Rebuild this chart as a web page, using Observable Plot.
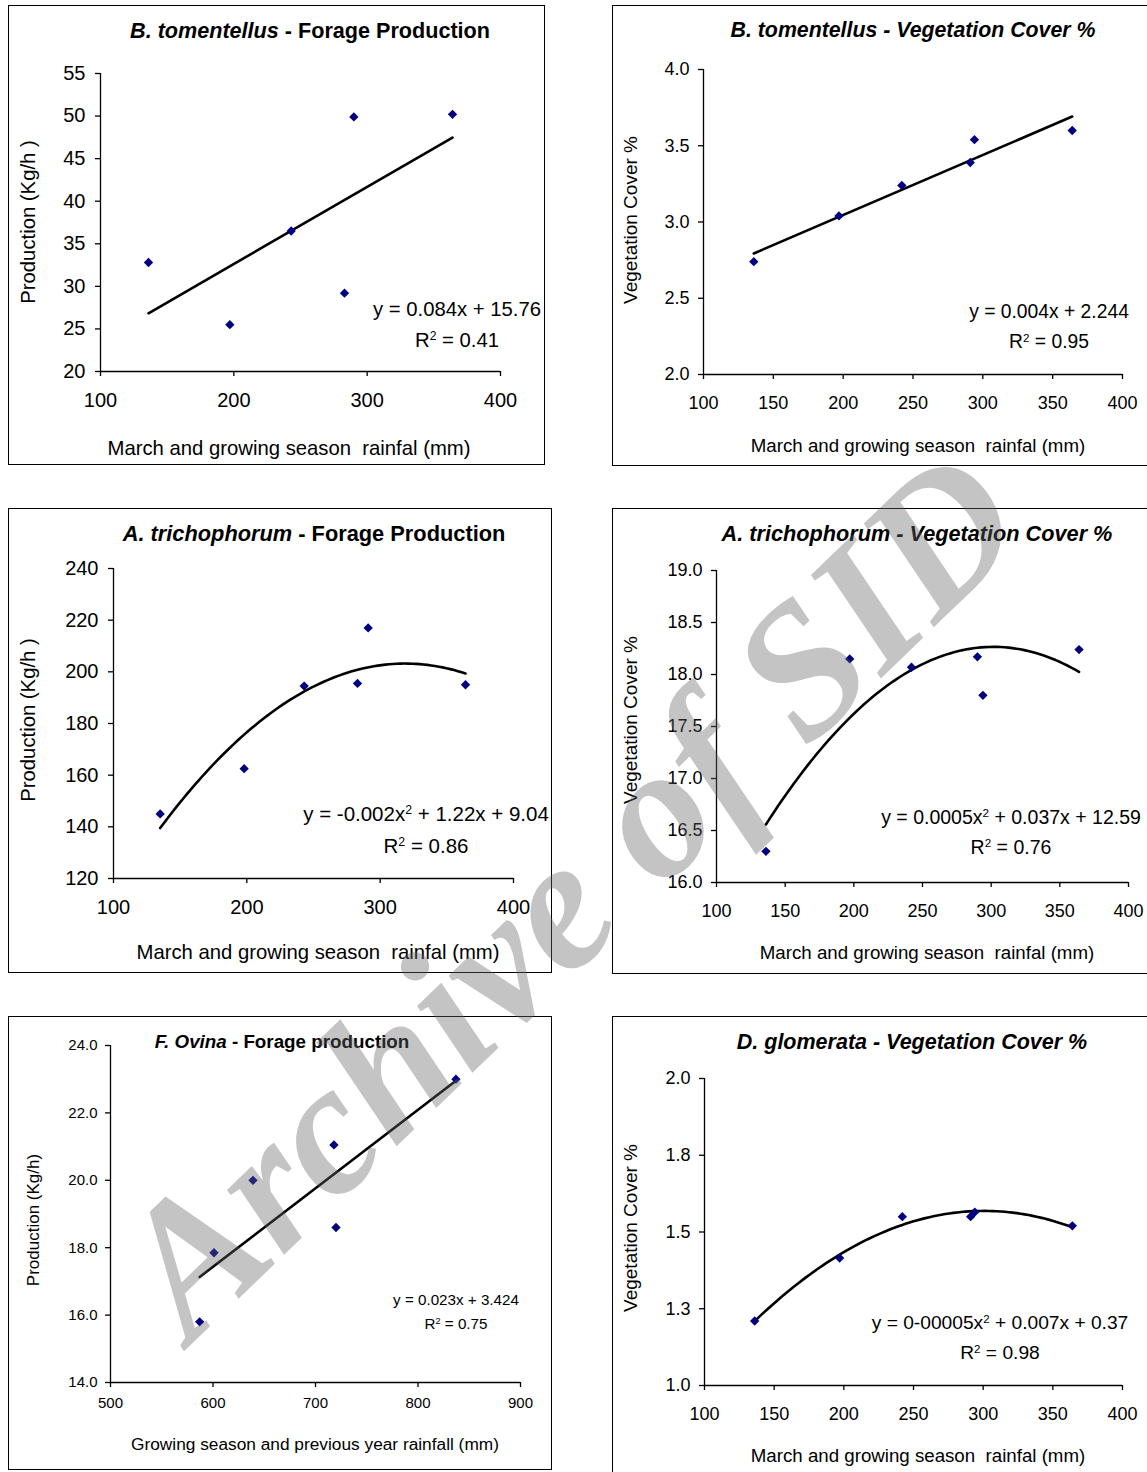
<!DOCTYPE html>
<html><head><meta charset="utf-8">
<script src="https://cdn.jsdelivr.net/npm/d3@7"></script>
<script src="https://cdn.jsdelivr.net/npm/@observablehq/plot@0.6"></script>
<style>
html,body{margin:0;padding:0;background:#fff;overflow:hidden;}
#root{position:relative;width:1147px;height:1472px;overflow:hidden;font-family:"Liberation Sans",Arial,sans-serif;color:#000;background:#fff;}
.frame{position:absolute;border:1.5px solid #000;box-sizing:border-box;}
.t{position:absolute;white-space:pre;transform:translate(-50%,-50%);line-height:1;}
.yl{transform:translate(-50%,-50%) rotate(-90deg);}
.plot{position:absolute;}
.eq{text-align:center;line-height:1.55;}
sup{font-size:0.6em;vertical-align:0.55em;line-height:0;}
.wm{position:absolute;white-space:nowrap;font-family:"Liberation Serif","Times New Roman",serif;font-weight:bold;font-style:italic;color:rgba(100,100,100,0.38);pointer-events:none;line-height:1;}
</style>
</head><body><div id="root"></div>
<script>
// ---------------- data ----------------
const rainProdBT = [136, 197, 243, 283, 290, 364];
const prodBT     = [32.8, 25.5, 36.5, 29.2, 49.9, 50.2];
const rainCoverBT = [136, 197, 242, 291, 294, 364];
const coverBT     = [2.74, 3.04, 3.24, 3.39, 3.54, 3.60];
const rainProdAT = [135, 198, 243, 283, 291, 364];
const prodAT     = [145, 162.5, 194.5, 195.5, 217, 195];
const rainCoverAT = [136, 197, 242, 290, 294, 364];
const coverAT     = [16.30, 18.15, 18.07, 18.17, 17.80, 18.24];
const rainFO = [587, 601, 639, 718, 720, 837];
const prodFO = [15.8, 17.85, 20.0, 21.05, 18.6, 23.0];
const rainCoverDG = [136, 197, 242, 291, 294, 364];
const coverDG     = [1.21, 1.415, 1.55, 1.55, 1.565, 1.52];

// tick values / labels
const rainTicks100 = [100, 200, 300, 400];
const rainTicks50  = [100, 150, 200, 250, 300, 350, 400];
const rainTicksFO  = [500, 600, 700, 800, 900];
const prodTicksBT  = [20, 25, 30, 35, 40, 45, 50, 55];
const coverTicksBT = [2.0, 2.5, 3.0, 3.5, 4.0];
const prodTicksAT  = [120, 140, 160, 180, 200, 220, 240];
const coverTicksAT = [16.0, 16.5, 17.0, 17.5, 18.0, 18.5, 19.0];
const prodTicksFO  = [14, 16, 18, 20, 22, 24];
const coverTicksDG = [1.0, 1.25, 1.5, 1.75, 2.0];
const coverTickLabelsDG = ["1.0", "1.3", "1.5", "1.8", "2.0"];

// texts
const titleSpecies = ["B. tomentellus", "B. tomentellus", "A. trichophorum", "A. trichophorum", "F. Ovina", "D. glomerata"];
const titleRest = [" - Forage Production", " - Vegetation Cover %", " - Forage Production", " - Vegetation Cover %", " - Forage production", " - Vegetation Cover %"];
const xLabels = ["March and growing season  rainfal (mm)", "March and growing season  rainfal (mm)", "March and growing season  rainfal (mm)", "March and growing season  rainfal (mm)", "Growing season and previous year rainfall (mm)", "March and growing season  rainfal (mm)"];
const yLabels = ["Production (Kg/h )", "Vegetation Cover %", "Production (Kg/h )", "Vegetation Cover %", "Production (Kg/h)", "Vegetation Cover %"];
const equations = ["y = 0.084x + 15.76", "y = 0.004x + 2.244", "y = -0.002x<sup>2</sup> + 1.22x + 9.04", "y = 0.0005x<sup>2</sup> + 0.037x + 12.59", "y = 0.023x + 3.424", "y = 0-00005x<sup>2</sup> + 0.007x + 0.37"];
const rSquared = ["0.41", "0.95", "0.86", "0.76", "0.75", "0.98"];

// ---------------- layout ----------------
const panels = [
  {x: rainProdBT, y: prodBT, xd: [100, 400], yd: [20, 55], xt: rainTicks100, yt: prodTicksBT, fit: "linear",
   frame: [8, 5, 545, 465], plot: [100, 73, 500, 371], fs: 20, lfs: 20.3, ylfs: 20.3, tfs: 21.6, efs: 20.3, allItalic: false,
   tpad: 16, ypad: 10, title: [310, 31], xl: [289, 448], yl: [28, 222], eq: [457, 325]},
  {x: rainCoverBT, y: coverBT, xd: [100, 400], yd: [2, 4], xt: rainTicks50, yt: coverTicksBT, fit: "linear", yf: d => d3.format(".1f")(d),
   frame: [612, 5, 1160, 466], plot: [703, 69, 1122, 374], fs: 18, lfs: 18.7, ylfs: 19, tfs: 21.3, efs: 19.3, allItalic: true,
   tpad: 17, ypad: 9, title: [913, 31], xl: [918, 446], yl: [630, 220], eq: [1049, 327]},
  {x: rainProdAT, y: prodAT, xd: [100, 400], yd: [120, 240], xt: rainTicks100, yt: prodTicksAT, fit: "quad",
   frame: [8, 508, 552, 973], plot: [113, 568, 513, 878], fs: 20, lfs: 20.3, ylfs: 20.3, tfs: 21.8, efs: 20.5, allItalic: false,
   tpad: 16, ypad: 10, title: [314, 534], xl: [318, 952], yl: [28, 720], eq: [426, 830]},
  {x: rainCoverAT, y: coverAT, xd: [100, 400], yd: [16, 19], xt: rainTicks50, yt: coverTicksAT, fit: "quad", yf: d => d3.format(".1f")(d),
   frame: [612, 508, 1160, 974], plot: [716, 570, 1128, 882], fs: 18, lfs: 18.7, ylfs: 19, tfs: 21.7, efs: 19.5, allItalic: true,
   tpad: 17, ypad: 9, title: [917, 534], xl: [927, 953], yl: [630, 720], eq: [1011, 832]},
  {x: rainFO, y: prodFO, xd: [500, 900], yd: [14, 24], xt: rainTicksFO, yt: prodTicksFO, fit: "linear", yf: d => d3.format(".1f")(d),
   frame: [8, 1016, 552, 1470], plot: [110, 1045, 520, 1382], fs: 15, lfs: 17.3, ylfs: 17, tfs: 18.8, efs: 15.2, allItalic: false,
   tpad: 10, ypad: 8, title: [282, 1042], xl: [315, 1445], yl: [33, 1220], eq: [456, 1312]},
  {x: rainCoverDG, y: coverDG, xd: [100, 400], yd: [1, 2], xt: rainTicks50, yt: coverTicksDG, fit: "quad", yf: d => coverTickLabelsDG[coverTicksDG.indexOf(d)],
   frame: [612, 1016, 1160, 1480], plot: [704, 1078, 1122, 1385], fs: 18, lfs: 18.7, ylfs: 19, tfs: 21.5, efs: 19.2, allItalic: true,
   tpad: 17, ypad: 9, title: [912, 1043], xl: [918, 1456], yl: [630, 1228], eq: [1000, 1338]}
];

// least-squares quadratic trend computed from the points
function quadFit(xs, ys) {
  const n = xs.length;
  let s = [0,0,0,0,0], t = [0,0,0];
  for (let i = 0; i < n; i++) {
    const x = xs[i], y = ys[i];
    for (let k = 0; k < 5; k++) s[k] += Math.pow(x, k);
    for (let k = 0; k < 3; k++) t[k] += y * Math.pow(x, k);
  }
  const A = [[s[0], s[1], s[2], t[0]], [s[1], s[2], s[3], t[1]], [s[2], s[3], s[4], t[2]]];
  for (let i = 0; i < 3; i++) {
    for (let j = i + 1; j < 3; j++) {
      const f = A[j][i] / A[i][i];
      for (let k = i; k < 4; k++) A[j][k] -= f * A[i][k];
    }
  }
  const c = [0,0,0];
  for (let i = 2; i >= 0; i--) {
    let v = A[i][3];
    for (let k = i + 1; k < 3; k++) v -= A[i][k] * c[k];
    c[i] = v / A[i][i];
  }
  const [x0, x1] = d3.extent(xs);
  return d3.range(0, 81).map(i => {
    const x = x0 + (x1 - x0) * i / 80;
    return {x, y: c[0] + c[1] * x + c[2] * x * x};
  });
}

const root = document.getElementById("root");
function addText(html, cx, cy, style, cls) {
  const d = document.createElement("div");
  d.className = "t" + (cls ? " " + cls : "");
  d.innerHTML = html;
  d.style.left = cx + "px";
  d.style.top = cy + "px";
  Object.assign(d.style, style || {});
  root.appendChild(d);
  return d;
}

panels.forEach((p, i) => {
  const [fl, ft, fr, fb] = p.frame;
  const [pl, pt, pr, pb] = p.plot;
  const fw = fr - fl, fh = fb - ft;
  const frame = document.createElement("div");
  frame.className = "frame";
  Object.assign(frame.style, {left: fl + "px", top: ft + "px", width: fw + "px", height: fh + "px"});
  root.appendChild(frame);

  const data = p.x.map((x, k) => ({x, y: p.y[k]}));
  const trend = p.fit === "linear"
    ? Plot.linearRegressionY(data, {x: "x", y: "y", ci: 0, stroke: "#000", strokeWidth: 2.6})
    : Plot.line(quadFit(p.x, p.y), {x: "x", y: "y", stroke: "#000", strokeWidth: 2.6});

  const chart = Plot.plot({
    width: fw, height: fh,
    marginLeft: pl - fl, marginRight: fr - pr, marginTop: pt - ft, marginBottom: fb - pb,
    style: {fontFamily: '"Liberation Sans", Arial, sans-serif', fontSize: p.fs + "px", color: "#000", background: "transparent", overflow: "visible"},
    x: {domain: p.xd},
    y: {domain: p.yd},
    marks: [
      Plot.axisX({ticks: p.xt, tickSize: 5, tickPadding: p.tpad, tickFormat: d => String(d), label: null, fontSize: p.fs, stroke: "#000", strokeWidth: 1.3}),
      Plot.axisY({ticks: p.yt, tickSize: 5, tickPadding: p.ypad, tickFormat: p.yf || (d => String(d)), label: null, fontSize: p.fs, stroke: "#000", strokeWidth: 1.3}),
      Plot.ruleX([p.xd[0]], {stroke: "#000", strokeWidth: 1.3}),
      Plot.ruleY([p.yd[0]], {stroke: "#000", strokeWidth: 1.3}),
      trend,
      Plot.dot(data, {x: "x", y: "y", symbol: "diamond2", r: 4.2, fill: "#000080", stroke: null})
    ]
  });
  chart.classList.add("plot");
  chart.style.left = fl + "px";
  chart.style.top = ft + "px";
  root.appendChild(chart);

  const sp = `<i>${titleSpecies[i]}</i>`;
  const rest = p.allItalic ? `<i>${titleRest[i]}</i>` : titleRest[i];
  addText(sp + rest, p.title[0], p.title[1], {fontWeight: "bold", fontSize: p.tfs + "px"});
  addText(xLabels[i], p.xl[0], p.xl[1], {fontSize: p.lfs + "px"});
  addText(yLabels[i], p.yl[0], p.yl[1], {fontSize: p.ylfs + "px"}, "yl");
  addText(`${equations[i]}<br>R<sup>2</sup> = ${rSquared[i]}`, p.eq[0], p.eq[1], {fontSize: p.efs + "px"}, "eq");
});

// watermark
const wm = document.createElement("div");
wm.className = "wm";
wm.textContent = "Archive of SID";
Object.assign(wm.style, {left: "568px", top: "893px", fontSize: "188px", transform: "translate(-50%,-50%) rotate(-44deg)"});
root.appendChild(wm);
</script>
</body></html>
